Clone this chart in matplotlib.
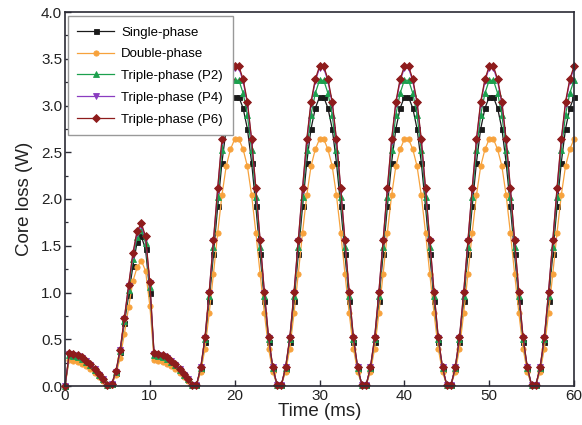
import numpy as np
import matplotlib
matplotlib.use("Agg")
import matplotlib.pyplot as plt
from matplotlib.ticker import MultipleLocator, FormatStrFormatter

plt.rcParams['font.family'] = ['Liberation Sans', 'DejaVu Sans']

time_ms = np.arange(0, 60.5, 0.5)

single_phase = [
    0.00, 0.32, 0.31, 0.30, 0.28, 0.25, 0.21, 0.17, 0.12, 0.06, 0.01, 0.02, 0.14, 0.36, 0.67, 0.97, 1.28, 1.54, 1.60, 1.46,
    1.00, 0.32, 0.31, 0.30, 0.28, 0.25, 0.21, 0.17, 0.12, 0.06, 0.01, 0.01, 0.18, 0.47, 0.91, 1.41, 1.92, 2.39, 2.75, 2.97,
    3.09, 3.09, 2.97, 2.75, 2.39, 1.92, 1.41, 0.91, 0.47, 0.18, 0.01, 0.01, 0.18, 0.47, 0.91, 1.41, 1.92, 2.39, 2.75, 2.97,
    3.09, 3.09, 2.97, 2.75, 2.39, 1.92, 1.41, 0.91, 0.47, 0.18, 0.01, 0.01, 0.18, 0.47, 0.91, 1.41, 1.92, 2.39, 2.75, 2.97,
    3.09, 3.09, 2.97, 2.75, 2.39, 1.92, 1.41, 0.91, 0.47, 0.18, 0.01, 0.01, 0.18, 0.47, 0.91, 1.41, 1.92, 2.39, 2.75, 2.97,
    3.09, 3.09, 2.97, 2.75, 2.39, 1.92, 1.41, 0.91, 0.47, 0.18, 0.01, 0.01, 0.18, 0.47, 0.91, 1.41, 1.92, 2.39, 2.75, 2.97,
    3.09]

double_phase = [
    0.00, 0.28, 0.27, 0.26, 0.24, 0.21, 0.18, 0.14, 0.10, 0.05, 0.01, 0.01, 0.12, 0.30, 0.56, 0.84, 1.12, 1.27, 1.34, 1.23,
    0.86, 0.28, 0.27, 0.26, 0.24, 0.21, 0.18, 0.14, 0.10, 0.05, 0.01, 0.01, 0.15, 0.40, 0.78, 1.20, 1.64, 2.04, 2.35, 2.53,
    2.64, 2.64, 2.53, 2.35, 2.04, 1.64, 1.20, 0.78, 0.40, 0.15, 0.01, 0.01, 0.15, 0.40, 0.78, 1.20, 1.64, 2.04, 2.35, 2.53,
    2.64, 2.64, 2.53, 2.35, 2.04, 1.64, 1.20, 0.78, 0.40, 0.15, 0.01, 0.01, 0.15, 0.40, 0.78, 1.20, 1.64, 2.04, 2.35, 2.53,
    2.64, 2.64, 2.53, 2.35, 2.04, 1.64, 1.20, 0.78, 0.40, 0.15, 0.01, 0.01, 0.15, 0.40, 0.78, 1.20, 1.64, 2.04, 2.35, 2.53,
    2.64, 2.64, 2.53, 2.35, 2.04, 1.64, 1.20, 0.78, 0.40, 0.15, 0.01, 0.01, 0.15, 0.40, 0.78, 1.20, 1.64, 2.04, 2.35, 2.53,
    2.64]

triple_p2 = [
    0.00, 0.33, 0.32, 0.31, 0.29, 0.26, 0.22, 0.17, 0.12, 0.07, 0.01, 0.02, 0.15, 0.37, 0.70, 1.03, 1.36, 1.59, 1.67, 1.53,
    1.06, 0.33, 0.32, 0.31, 0.29, 0.26, 0.22, 0.17, 0.12, 0.07, 0.01, 0.01, 0.19, 0.50, 0.96, 1.49, 2.02, 2.52, 2.90, 3.13,
    3.27, 3.27, 3.13, 2.90, 2.52, 2.02, 1.49, 0.96, 0.50, 0.19, 0.01, 0.01, 0.19, 0.50, 0.96, 1.49, 2.02, 2.52, 2.90, 3.13,
    3.27, 3.27, 3.13, 2.90, 2.52, 2.02, 1.49, 0.96, 0.50, 0.19, 0.01, 0.01, 0.19, 0.50, 0.96, 1.49, 2.02, 2.52, 2.90, 3.13,
    3.27, 3.27, 3.13, 2.90, 2.52, 2.02, 1.49, 0.96, 0.50, 0.19, 0.01, 0.01, 0.19, 0.50, 0.96, 1.49, 2.02, 2.52, 2.90, 3.13,
    3.27, 3.27, 3.13, 2.90, 2.52, 2.02, 1.49, 0.96, 0.50, 0.19, 0.01, 0.01, 0.19, 0.50, 0.96, 1.49, 2.02, 2.52, 2.90, 3.13,
    3.27]

triple_p4 = [
    0.00, 0.34, 0.33, 0.32, 0.30, 0.27, 0.22, 0.18, 0.12, 0.07, 0.01, 0.02, 0.15, 0.38, 0.72, 1.07, 1.40, 1.64, 1.72, 1.58,
    1.10, 0.34, 0.33, 0.32, 0.30, 0.27, 0.22, 0.18, 0.12, 0.07, 0.01, 0.01, 0.20, 0.51, 1.00, 1.55, 2.10, 2.62, 3.02, 3.26,
    3.40, 3.40, 3.26, 3.02, 2.62, 2.10, 1.55, 1.00, 0.51, 0.20, 0.01, 0.01, 0.20, 0.51, 1.00, 1.55, 2.10, 2.62, 3.02, 3.26,
    3.40, 3.40, 3.26, 3.02, 2.62, 2.10, 1.55, 1.00, 0.51, 0.20, 0.01, 0.01, 0.20, 0.51, 1.00, 1.55, 2.10, 2.62, 3.02, 3.26,
    3.40, 3.40, 3.26, 3.02, 2.62, 2.10, 1.55, 1.00, 0.51, 0.20, 0.01, 0.01, 0.20, 0.51, 1.00, 1.55, 2.10, 2.62, 3.02, 3.26,
    3.40, 3.40, 3.26, 3.02, 2.62, 2.10, 1.55, 1.00, 0.51, 0.20, 0.01, 0.01, 0.20, 0.51, 1.00, 1.55, 2.10, 2.62, 3.02, 3.26,
    3.40]

triple_p6 = [
    0.00, 0.35, 0.34, 0.33, 0.31, 0.27, 0.23, 0.18, 0.13, 0.07, 0.01, 0.02, 0.16, 0.39, 0.73, 1.08, 1.42, 1.66, 1.74, 1.60,
    1.11, 0.35, 0.34, 0.33, 0.31, 0.27, 0.23, 0.18, 0.13, 0.07, 0.01, 0.01, 0.20, 0.52, 1.01, 1.56, 2.12, 2.64, 3.04, 3.28,
    3.42, 3.42, 3.28, 3.04, 2.64, 2.12, 1.56, 1.01, 0.52, 0.20, 0.01, 0.01, 0.20, 0.52, 1.01, 1.56, 2.12, 2.64, 3.04, 3.28,
    3.42, 3.42, 3.28, 3.04, 2.64, 2.12, 1.56, 1.01, 0.52, 0.20, 0.01, 0.01, 0.20, 0.52, 1.01, 1.56, 2.12, 2.64, 3.04, 3.28,
    3.42, 3.42, 3.28, 3.04, 2.64, 2.12, 1.56, 1.01, 0.52, 0.20, 0.01, 0.01, 0.20, 0.52, 1.01, 1.56, 2.12, 2.64, 3.04, 3.28,
    3.42, 3.42, 3.28, 3.04, 2.64, 2.12, 1.56, 1.01, 0.52, 0.20, 0.01, 0.01, 0.20, 0.52, 1.01, 1.56, 2.12, 2.64, 3.04, 3.28,
    3.42]

series_labels = ["Single-phase", "Double-phase", "Triple-phase (P2)",
                 "Triple-phase (P4)", "Triple-phase (P6)"]
series_values = [single_phase, double_phase, triple_p2, triple_p4, triple_p6]
colors = ["#1a1a1a", "#f7a23c", "#1ca04e", "#8a3cc0", "#8e1c1c"]
markers = ["s", "o", "^", "v", "D"]
msizes = [3.6, 3.8, 4.2, 4.2, 3.8]

fig = plt.figure(figsize=(5.82, 4.25), dpi=100)
ax = fig.add_axes([65/582, 1 - 386/425, (574-65)/582, (386-12)/425])

for lab, vals, c, m, ms in zip(series_labels, series_values, colors, markers, msizes):
    ax.plot(time_ms, vals, color=c, marker=m, markersize=ms, linewidth=0.9,
            markeredgewidth=0.6, label=lab, clip_on=False)

ax.set_xlim(0, 60)
ax.set_ylim(0, 4.0)
ax.xaxis.set_major_locator(MultipleLocator(10))
ax.yaxis.set_major_locator(MultipleLocator(0.5))
ax.yaxis.set_minor_locator(MultipleLocator(0.25))
ax.yaxis.set_major_formatter(FormatStrFormatter('%.1f'))
ax.tick_params(axis='both', which='major', direction='in', length=4.5, width=1.0,
               labelsize=11, colors='#2b2b35', pad=2)
ax.tick_params(axis='y', which='minor', direction='in', length=2.5, width=0.9, colors='#2b2b35')
for lbl in ax.get_xticklabels() + ax.get_yticklabels():
    lbl.set_color('#222222')
for sp in ax.spines.values():
    sp.set_linewidth(1.2)
    sp.set_color('#2b2b35')

ax.set_xlabel("Time (ms)", fontsize=13.5, labelpad=0, color='#222222')
ax.set_ylabel("Core loss (W)", fontsize=13.5, labelpad=6, color='#222222')

leg = ax.legend(loc='upper left', bbox_to_anchor=(0.005, 0.988), fontsize=9.5,
                frameon=True, fancybox=False, edgecolor='#999999', framealpha=1,
                handlelength=2.8, handletextpad=0.5, labelspacing=0.72,
                borderpad=0.75, borderaxespad=0.0)
leg.get_frame().set_linewidth(1.0)

fig.savefig("out.png", dpi=100)
